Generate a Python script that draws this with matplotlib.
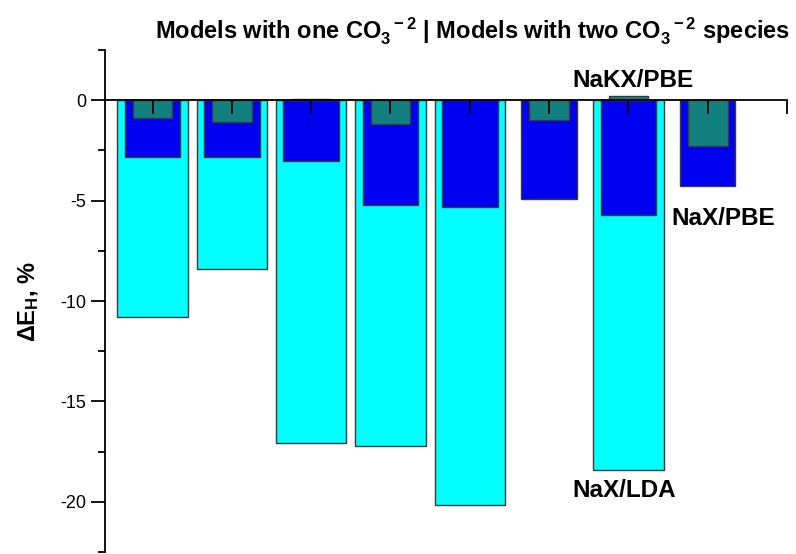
import numpy as np
import matplotlib.pyplot as plt

plt.rcParams['font.family'] = ['Liberation Sans', 'DejaVu Sans']
plt.rcParams['axes.unicode_minus'] = False
plt.rcParams['mathtext.fontset'] = 'custom'
plt.rcParams['mathtext.rm'] = 'Liberation Sans:bold'
plt.rcParams['mathtext.it'] = 'Liberation Sans:bold'
plt.rcParams['mathtext.bf'] = 'Liberation Sans:bold'
plt.rcParams['mathtext.default'] = 'bf'

# model index, one value per series (nan = no bar)
models = [1, 2, 3, 4, 5, 6, 7, 8]
nax_lda = [-10.8, -8.4, -17.05, -17.2, -20.15, np.nan, -18.4, np.nan]
nax_pbe = [-2.82, -2.82, -3.03, -5.22, -5.33, -4.93, -5.72, -4.28]
nakx_pbe = [-0.91, -1.11, 0.08, -1.21, np.nan, -1.0, 0.2, -2.29]

fig = plt.figure(figsize=(7.96, 5.54), dpi=100)
ax = fig.add_axes([105 / 796, 2 / 554, 682 / 796, 502 / 554])

edge = '#3a3a3a'
ax.bar(models, nax_lda, width=0.89, color='#00ffff', edgecolor=edge, linewidth=1, zorder=1)
ax.bar(models, nax_pbe, width=0.7, color='#0000f0', edgecolor=edge, linewidth=1, zorder=1.1)
ax.bar(models, nakx_pbe, width=0.5, color='#138080', edgecolor=edge, linewidth=1, zorder=1.2)

ax.set_xlim(0.4, 9)
ax.set_ylim(-22.5, 2.5)

ax.spines['top'].set_visible(False)
ax.spines['right'].set_visible(False)
ax.spines['bottom'].set_position(('data', 0))
ax.spines['left'].set_linewidth(1.3)
ax.spines['bottom'].set_linewidth(1.3)

ax.set_xticks(range(1, 10))
ax.tick_params(axis='x', direction='out', length=10, width=1.3, labelbottom=False)

ax.set_yticks([0, -5, -10, -15, -20])
ax.set_yticks([2.5, -2.5, -7.5, -12.5, -17.5, -22.5], minor=True)
ax.tick_params(axis='y', which='major', direction='out', length=10, width=1.3, labelsize=13)
ax.tick_params(axis='y', which='minor', direction='out', length=5, width=1.3)
ax.set_ylabel(r'$\Delta$E$_H$, %', fontsize=17, fontweight='bold', labelpad=14)

fig.text(790 / 796, 1 - 31 / 554,
         r'Models with one CO$_3^{\ \ -2}$ | Models with two CO$_3^{\ \ -2}$ species',
         ha='right', va='center', fontsize=17, fontweight='bold')

ax.text(7.06, 1.0, 'NaKX/PBE', ha='center', va='center', fontsize=17.5, fontweight='bold')
ax.text(8.2, -5.9, 'NaX/PBE', ha='center', va='center', fontsize=17.5, fontweight='bold')
ax.text(6.95, -19.45, 'NaX/LDA', ha='center', va='center', fontsize=17.5, fontweight='bold')

fig.savefig('out.png', dpi=100)
